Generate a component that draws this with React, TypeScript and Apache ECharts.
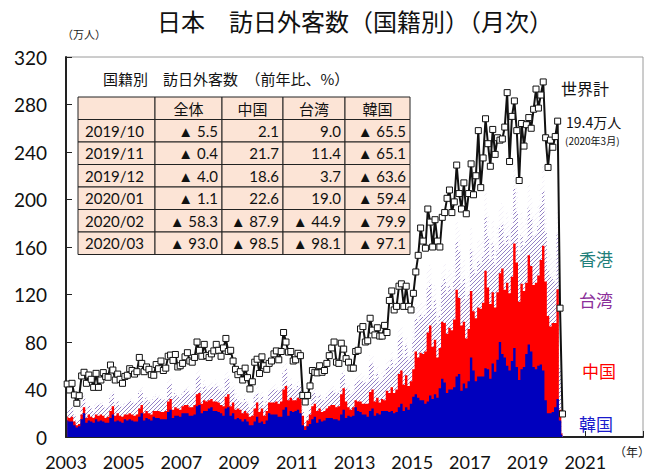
import React, { useEffect, useRef } from 'react';
import * as echarts from 'echarts';

const startYear = 2003;

// 世界計 (万人) monthly, 2003/01 - 2020/03
const worldTotal = [
  44.6, 39.6, 45.2, 35.4, 28.4, 34.8, 51.4, 54.5, 45.2, 52.2, 48.6, 41.8,
  53.6, 41.8, 48.0, 54.2, 50.9, 50.3, 60.6, 56.4, 48.0, 53.0, 48.6, 45.2,
  51.0, 52.0, 57.5, 56.0, 53.0, 55.0, 67.0, 62.0, 55.0, 59.0, 57.0, 52.5,
  52.0, 61.0, 57.5, 64.0, 56.0, 58.0, 68.0, 69.0, 64.5, 69.5, 59.0, 60.0,
  62.0, 67.5, 71.0, 64.0, 63.0, 67.0, 80.0, 73.0, 68.0, 78.0, 68.5, 67.0,
  70.0, 72.5, 78.0, 73.0, 68.0, 75.0, 83.0, 72.0, 73.0, 64.0, 57.0, 52.5,
  55.0, 48.0, 58.0, 50.0, 40.5, 46.5, 63.0, 65.5, 53.5, 67.5, 60.0, 57.0,
  62.0, 64.0, 70.0, 72.5, 65.0, 72.0, 88.0, 80.0, 71.5, 72.0, 64.0, 65.0,
  70.5, 68.5, 35.0, 29.5, 35.0, 43.0, 56.0, 54.5, 54.0, 60.0, 54.5, 56.0,
  62.0, 68.5, 75.0, 80.0, 63.0, 62.0, 79.0, 74.0, 66.0, 63.0, 58.0, 58.0,
  72.0, 73.0, 91.0, 93.0, 80.0, 81.0, 100.0, 90.0, 86.0, 92.0, 85.0, 85.0,
  94.0, 88.0, 115.0, 123.0, 107.0, 110.0, 127.0, 129.0, 110.0, 127.0, 110.0, 107.0,
  121.0, 139.0, 153.0, 176.0, 165.0, 159.0, 192.0, 181.0, 160.0, 183.0, 165.0, 160.0,
  185.0, 189.0, 201.0, 208.0, 189.0, 198.0, 229.0, 205.0, 192.0, 214.0, 188.0, 205.0,
  230.0, 204.0, 220.0, 258.0, 210.0, 235.0, 268.0, 247.0, 228.0, 259.0, 238.0, 252.0,
  250.0, 251.0, 261.0, 290.0, 232.0, 270.0, 283.0, 258.0, 216.0, 264.0, 245.0, 263.0,
  269.0, 260.0, 276.0, 293.0, 277.0, 288.0, 299.0, 252.0, 227.0, 250.0, 244.0, 253.0,
  266.0, 108.5, 19.4,
];

const korea = [
  14, 13, 13, 10, 8, 9, 15, 20, 12, 14, 13, 12,
  15, 13, 14, 13, 12, 12, 16, 19, 13, 14, 13, 12,
  15, 14, 15, 14, 13, 13, 17, 20, 14, 16, 15, 14,
  17, 16, 16, 15, 15, 15, 21, 23, 16, 18, 18, 17,
  20, 20, 20, 18, 18, 19, 26, 27, 20, 22, 22, 24,
  25, 22, 22, 21, 20, 18, 24, 25, 18, 20, 15, 16,
  15, 13, 15, 13, 10, 10, 13, 17, 12, 13, 11, 14,
  20, 19, 19, 19, 17, 17, 23, 25, 18, 22, 21, 22,
  23, 20, 10, 6, 9, 11, 15, 17, 12, 15, 13, 14,
  16, 16, 16, 15, 15, 14, 19, 23, 16, 18, 17, 18,
  25, 22, 21, 19, 19, 17, 22, 24, 18, 20, 19, 22,
  22, 22, 21, 22, 20, 21, 25, 28, 22, 25, 23, 28,
  34, 36, 33, 31, 31, 28, 30, 35, 32, 36, 33, 41,
  49, 46, 37, 40, 40, 42, 51, 53, 39, 45, 41, 47,
  67, 56, 47, 51, 51, 51, 58, 57, 49, 62, 55, 65,
  80, 70, 67, 60, 56, 64, 75, 59, 48, 57, 59, 70,
  78, 72, 59, 57, 60, 61, 56, 31, 20, 20, 21, 25,
  32, 14, 2,
];

const china = [
  3, 3, 4, 3, 2, 2, 4, 5, 4, 5, 4, 4,
  4, 5, 5, 5, 4, 5, 6, 7, 5, 6, 5, 5,
  4, 5, 5, 5, 5, 6, 7, 7, 6, 6, 5, 5,
  5, 6, 6, 6, 6, 7, 9, 9, 7, 7, 6, 6,
  6, 7, 7, 7, 7, 8, 10, 10, 8, 9, 8, 7,
  7, 8, 8, 8, 7, 8, 10, 11, 8, 9, 8, 8,
  8, 7, 7, 7, 7, 8, 11, 12, 9, 11, 7, 8,
  9, 10, 10, 11, 11, 13, 17, 18, 13, 11, 10, 9,
  10, 12, 8, 3, 5, 8, 11, 11, 10, 9, 8, 8,
  8, 10, 11, 12, 10, 12, 17, 18, 14, 7, 6, 7,
  6, 8, 9, 9, 9, 11, 16, 16, 12, 13, 10, 10,
  9, 17, 16, 20, 17, 19, 28, 28, 22, 27, 20, 19,
  23, 36, 34, 40, 39, 44, 58, 59, 44, 46, 34, 34,
  48, 50, 50, 52, 50, 57, 73, 64, 55, 52, 42, 44,
  56, 50, 53, 58, 57, 62, 82, 69, 63, 60, 54, 57,
  58, 72, 57, 70, 65, 71, 88, 88, 66, 72, 64, 60,
  75, 72, 69, 73, 76, 88, 105, 100, 82, 73, 75, 71,
  92.5, 9, 1,
];

const taiwan = [
  6, 7, 8, 6, 3, 4, 8, 9, 7, 8, 7, 6,
  8, 9, 9, 9, 8, 8, 11, 11, 9, 10, 9, 8,
  9, 10, 11, 11, 10, 10, 13, 12, 10, 11, 10, 10,
  10, 12, 11, 11, 10, 10, 13, 13, 11, 12, 10, 9,
  10, 12, 13, 11, 11, 11, 14, 14, 11, 13, 10, 9,
  10, 12, 14, 11, 12, 12, 15, 13, 12, 12, 10, 8,
  7, 8, 10, 8, 6, 7, 10, 9, 8, 11, 9, 8,
  8, 10, 11, 10, 10, 11, 14, 14, 11, 12, 9, 9,
  10, 11, 5, 4, 4, 6, 10, 9, 9, 11, 10, 9,
  10, 11, 12, 12, 12, 11, 15, 13, 11, 15, 12, 12,
  14, 17, 18, 19, 18, 18, 23, 22, 18, 20, 17, 16,
  21, 20, 22, 23, 22, 22, 29, 28, 23, 25, 22, 21,
  25, 28, 30, 32, 31, 31, 37, 36, 31, 33, 29, 27,
  31, 37, 34, 35, 34, 34, 41, 40, 35, 37, 33, 30,
  35, 35, 37, 39, 38, 39, 45, 43, 38, 41, 36, 35,
  38, 37, 39, 40, 40, 43, 46, 43, 39, 41, 38, 36,
  40, 40, 40, 40, 42, 46, 46, 42, 39, 42, 37, 35,
  46, 35, 2,
];

const hongkong = [
  2, 2, 2, 1.5, 1, 1.5, 3, 3, 2.5, 2.5, 2, 2.5,
  2, 2.5, 2.5, 2.5, 2, 2, 3.5, 3.5, 2.5, 2.5, 2.5, 2.5,
  2, 2.5, 2.5, 2.5, 2, 2, 3.5, 3.5, 2.5, 2.5, 2.5, 2.5,
  2.5, 2.5, 3, 3, 2.5, 2.5, 4, 4, 3, 3, 3, 3,
  3, 3, 3.5, 3.5, 3, 3, 5, 5, 3.5, 4, 3.5, 4,
  4, 4, 4.5, 4.5, 4, 4, 6, 6, 4.5, 5, 4, 4.5,
  3.5, 3.5, 4, 4, 3, 3, 5, 5, 3.5, 4, 3.5, 4,
  4, 4, 4.5, 4.5, 3.5, 4, 6, 6, 4, 4.5, 4, 4.5,
  4, 4, 2, 1, 2, 2.5, 4, 4, 3, 3.5, 3, 3.5,
  3.5, 3.5, 4, 4, 3.5, 3.5, 5.5, 5.5, 4, 4, 3.5, 4,
  5, 5, 6, 6, 5.5, 6, 8, 8, 6, 6.5, 6, 7,
  7, 6.5, 8, 8, 7, 7, 10, 10, 7.5, 8, 7, 8,
  11, 12, 13, 12, 12, 11, 16, 15, 12, 13, 12, 13,
  13, 14, 15, 14, 14, 13, 18, 17, 15, 16, 15, 18,
  18, 16, 18, 19, 18, 17, 22, 20, 17, 19, 18, 20,
  17, 18, 18, 19, 17, 17, 22, 20, 16, 19, 17, 20,
  19, 17, 18, 19, 18, 17, 22, 21, 16, 19, 18, 21,
  21, 11, 0.1,
];

const yTicks = [0, 40, 80, 120, 160, 200, 240, 280, 320];
const xYears = [2003, 2005, 2007, 2009, 2011, 2013, 2015, 2017, 2019, 2021];

const tableTitle = '国籍別　訪日外客数　（前年比、%）';
const tableCols = ['全体', '中国', '台湾', '韓国'];
const tableRows = ['2019/10', '2019/11', '2019/12', '2020/01', '2020/02', '2020/03'];
const tableVals = [
  ['▲ 5.5', '2.1', '9.0', '▲ 65.5'],
  ['▲ 0.4', '21.7', '11.4', '▲ 65.1'],
  ['▲ 4.0', '18.6', '3.7', '▲ 63.6'],
  ['▲ 1.1', '22.6', '19.0', '▲ 59.4'],
  ['▲ 58.3', '▲ 87.9', '▲ 44.9', '▲ 79.9'],
  ['▲ 93.0', '▲ 98.5', '▲ 98.1', '▲ 97.1'],
];

const toXY = (arr: number[]) => arr.map((v, i) => [startYear + (i + 0.5) / 12, v]);
// cumulative layers (drawn back-to-front from the axis origin)
const addArr = (a: number[], b: number[]) => a.map((v, i) => v + (b[i] || 0));

function hatch(color: string, size: number, lw: number) {
  const c = document.createElement('canvas');
  c.width = size;
  c.height = size;
  const ctx = c.getContext('2d')!;
  ctx.fillStyle = '#ffffff';
  ctx.fillRect(0, 0, size, size);
  ctx.strokeStyle = color;
  ctx.lineWidth = lw;
  ctx.beginPath();
  ctx.moveTo(-1, size + 1);
  ctx.lineTo(size + 1, -1);
  ctx.moveTo(-1, 1);
  ctx.lineTo(1, -1);
  ctx.moveTo(size - 1, size + 1);
  ctx.lineTo(size + 1, size - 1);
  ctx.stroke();
  return { image: c.toDataURL(), repeat: 'repeat', imageWidth: size, imageHeight: size };
}

const CJK = '"Noto Sans CJK JP", sans-serif';
const NUM = 'Lato, "Noto Sans", sans-serif';

function buildTable() {
  const colX = [78, 155, 222, 283, 345, 410];
  const top = 97;
  const rowH = 22.5;
  const els: any[] = [];
  const nRows = tableRows.length + 1;
  for (let r = 0; r < nRows; r++) {
    for (let c = 0; c < colX.length - 1; c++) {
      els.push({
        type: 'rect',
        z: 100,
        shape: { x: colX[c], y: top + r * rowH, width: colX[c + 1] - colX[c], height: rowH },
        style: { fill: '#FCE4D6', stroke: '#222', lineWidth: 1 },
      });
    }
  }
  tableCols.forEach((t, c) => {
    els.push({
      type: 'text', z: 101,
      x: (colX[c + 1] + colX[c + 2]) / 2, y: top + rowH / 2,
      style: { text: t, font: `15px ${CJK}`, fill: '#111', align: 'center', verticalAlign: 'middle' },
    });
  });
  tableRows.forEach((t, r) => {
    const cy = top + (r + 1) * rowH + rowH / 2;
    els.push({
      type: 'text', z: 101, x: colX[0] + 7, y: cy,
      style: { text: t, font: `15px ${NUM}`, fill: '#111', align: 'left', verticalAlign: 'middle' },
    });
    tableVals[r].forEach((v, c) => {
      els.push({
        type: 'text', z: 101, x: colX[c + 2] - 4, y: cy,
        style: { text: v, font: `15px ${NUM}`, fill: '#111', align: 'right', verticalAlign: 'middle' },
      });
    });
  });
  els.push({
    type: 'text', z: 101, x: 103, y: 78,
    style: { text: tableTitle, font: `15px ${CJK}`, fill: '#111', align: 'left', verticalAlign: 'middle' },
  });
  return els;
}

function label(text: string, x: number, y: number, size: number, color: string, font = CJK, align = 'left') {
  return {
    type: 'text', z: 101, x, y,
    style: { text, font: `${size}px ${font}`, fill: color, align, verticalAlign: 'middle' },
  };
}

export default function App() {
  const ref = useRef<HTMLDivElement>(null);
  useEffect(() => {
    if (!ref.current) return;
    document.body.style.margin = '0';
    const chart = echarts.init(ref.current, null, { renderer: 'svg' });
    const kc = addArr(korea, china);
    const kct = addArr(kc, taiwan);
    const kcth = addArr(kct, hongkong);
    const areaSeries = (name: string, data: number[], color: any, z: number) => ({
      name,
      type: 'line',
      step: 'middle',
      data: toXY(data),
      symbol: 'none',
      showSymbol: false,
      lineStyle: { width: 0 },
      areaStyle: { color, opacity: 1, origin: 'start' },
      z,
    });
    chart.setOption({
      animation: false,
      backgroundColor: '#fff',
      grid: { left: 66, right: 6, top: 57, bottom: 37, show: true, borderColor: '#9a9a9a', borderWidth: 1 },
      xAxis: {
        type: 'value',
        min: 2003,
        max: 2023,
        interval: 2,
        axisLine: { show: true, lineStyle: { color: '#222', width: 2 } },
        axisTick: { show: true, inside: true, length: 6, lineStyle: { color: '#222' } },
        splitLine: { show: false },
        axisLabel: {
          margin: 16,
          fontSize: 18,
          fontFamily: NUM,
          color: '#111',
          formatter: (v: number) => (xYears.includes(v) ? String(v) : ''),
        },
      },
      yAxis: {
        type: 'value',
        min: 0,
        max: 320,
        interval: 40,
        axisLine: { show: true, lineStyle: { color: '#222', width: 2 } },
        axisTick: { show: true, inside: true, length: 6, lineStyle: { color: '#222' } },
        splitLine: { show: false },
        axisLabel: {
          margin: 19,
          fontSize: 19,
          fontFamily: NUM,
          color: '#111',
          formatter: (v: number) => (yTicks.includes(v) ? String(v) : ''),
        },
      },
      series: [
        areaSeries('香港', kcth, hatch('#ece8f5', 5, 0.7), 2),
        areaSeries('台湾', kct, hatch('#7a62b8', 4, 0.8), 3),
        areaSeries('中国', kc, '#FF0000', 4),
        areaSeries('韓国', korea, '#0000BE', 5),
        {
          name: '世界計',
          type: 'line',
          data: toXY(worldTotal),
          symbol: 'rect',
          symbolSize: 6,
          showSymbol: true,
          itemStyle: { color: '#fff', borderColor: '#111', borderWidth: 1 },
          lineStyle: { color: '#111', width: 2 },
          z: 8,
        },
      ],
      graphic: [
        label('日本　訪日外客数（国籍別）（月次）', 355, 20, 24, '#111', CJK, 'center'),
        label('（万人）', 62, 34, 11, '#222'),
        ...buildTable(),
        label('世界計', 561, 88, 16, '#111'),
        label('19.4万人', 566, 122, 14, '#111'),
        label('(2020年3月)', 565, 140, 10, '#111'),
        label('香港', 579, 258, 17, '#1F7F7A'),
        label('台湾', 579, 299, 17, '#8B2F9A'),
        label('中国', 582, 370, 17, '#FF0000'),
        label('韓国', 579, 423, 17, '#1A1ACC'),
        label('（年）', 614, 451, 12, '#222'),
      ],
    });
    return () => chart.dispose();
  }, []);
  return <div ref={ref} style={{ width: 649, height: 474 }} />;
}
